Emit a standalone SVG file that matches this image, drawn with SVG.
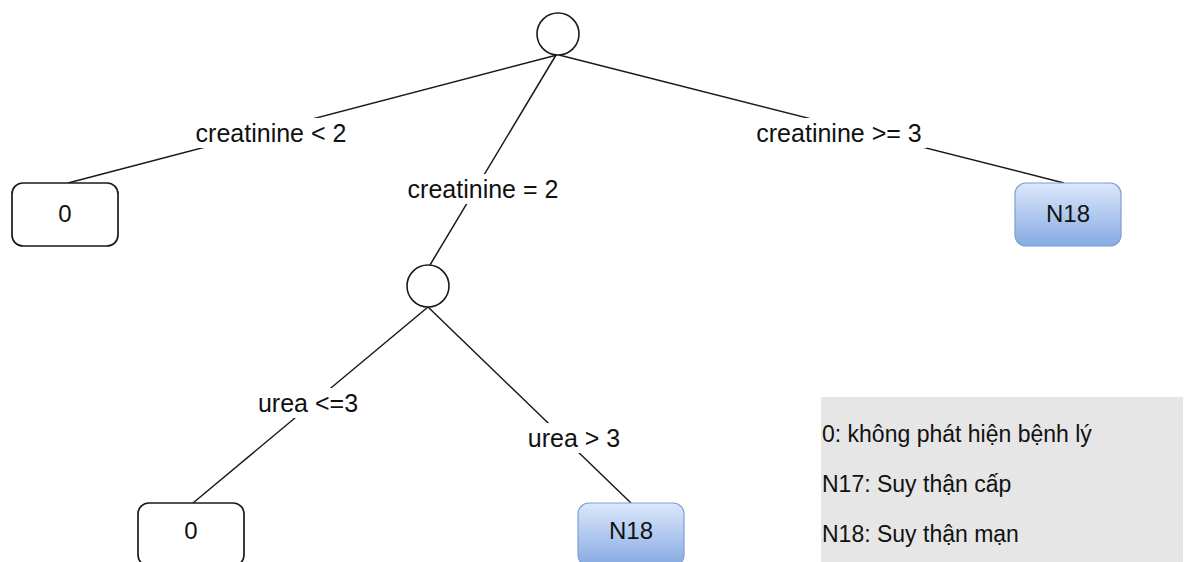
<svg xmlns="http://www.w3.org/2000/svg" width="1189" height="562" viewBox="0 0 1189 562">
  <defs>
    <linearGradient id="blueFill" x1="0" y1="0" x2="0" y2="1">
      <stop offset="0" stop-color="#dbe8fb"/>
      <stop offset="1" stop-color="#86aae2"/>
    </linearGradient>
    <style>
      text { font-family: "Liberation Sans", Arial, Helvetica, sans-serif; fill: #111; }
      .edge { stroke: #1a1a1a; stroke-width: 1.5; fill: none; }
      .lblbg { fill: #ffffff; }
      .lbl { font-size: 25px; text-anchor: middle; }
      .split { fill: #ffffff; stroke: #1a1a1a; stroke-width: 1.6; }
      .leaf { fill: #ffffff; stroke: #1a1a1a; stroke-width: 1.7; }
      .leafBlue { fill: url(#blueFill); stroke: #7b9fd4; stroke-width: 1.2; }
      .ntext { font-size: 24px; text-anchor: middle; }
      .legend { fill: #e6e6e6; }
      .ltext { font-size: 23px; }
    </style>
  </defs>

  <rect width="1189" height="562" fill="#ffffff"/>

  <!-- connectors with their condition labels -->
  <g id="connectors">
    <line class="edge" x1="557" y1="55" x2="68" y2="183"/>
    <line class="edge" x1="556" y1="55" x2="430" y2="265"/>
    <line class="edge" x1="559" y1="55" x2="1064" y2="183"/>
    <line class="edge" x1="428" y1="307" x2="193" y2="503"/>
    <line class="edge" x1="428" y1="307" x2="631" y2="503"/>

    <rect class="lblbg" x="192" y="118" width="159" height="30"/>
    <text class="lbl" x="271" y="142">creatinine &lt; 2</text>

    <rect class="lblbg" x="404" y="174" width="158" height="30"/>
    <text class="lbl" x="483" y="198">creatinine = 2</text>

    <rect class="lblbg" x="751" y="118" width="176" height="30"/>
    <text class="lbl" x="839" y="142">creatinine &gt;= 3</text>

    <rect class="lblbg" x="253" y="388" width="110" height="30"/>
    <text class="lbl" x="308" y="412">urea &lt;=3</text>

    <rect class="lblbg" x="523" y="423" width="102" height="30"/>
    <text class="lbl" x="574" y="447">urea &gt; 3</text>
  </g>

  <!-- decision points -->
  <g id="root">
    <circle class="split" cx="558" cy="34" r="21"/>
  </g>
  <g id="urea-split">
    <circle class="split" cx="428" cy="286" r="21"/>
  </g>

  <!-- outcomes -->
  <g id="leaf-low">
    <rect class="leaf" x="12" y="183" width="106" height="63" rx="11"/>
    <text class="ntext" x="65" y="222">0</text>
  </g>
  <g id="leaf-high">
    <rect class="leafBlue" x="1015" y="183" width="106" height="63" rx="11"/>
    <text class="ntext" x="1068" y="222">N18</text>
  </g>
  <g id="leaf-urea-low">
    <rect class="leaf" x="138" y="503" width="106" height="63" rx="11"/>
    <text class="ntext" x="191" y="539">0</text>
  </g>
  <g id="leaf-urea-high">
    <rect class="leafBlue" x="578" y="503" width="106" height="63" rx="11"/>
    <text class="ntext" x="631" y="539">N18</text>
  </g>

  <!-- code legend -->
  <g id="legend">
    <rect class="legend" x="821" y="397" width="362" height="165"/>
    <text class="ltext" x="822" y="442">0: không phát hiện bệnh lý</text>
    <text class="ltext" x="822" y="492">N17: Suy thận cấp</text>
    <text class="ltext" x="822" y="542">N18: Suy thận mạn</text>
  </g>
</svg>
